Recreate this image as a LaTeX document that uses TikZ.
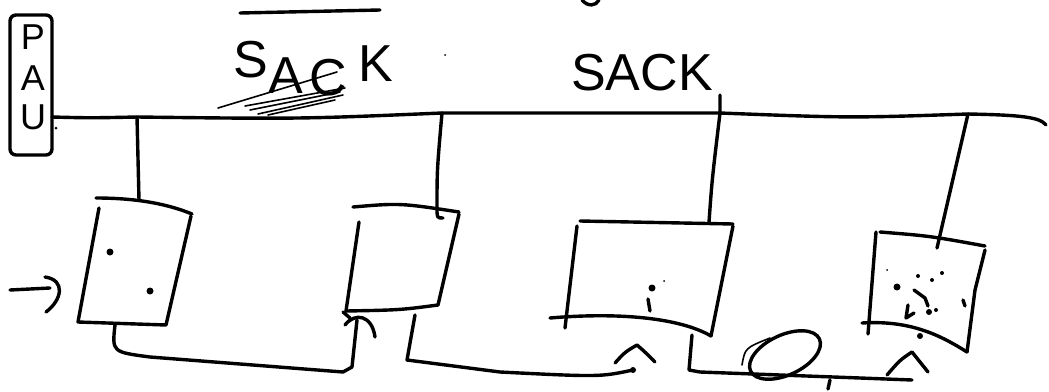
\documentclass[tikz,border=0pt]{standalone}
\usepackage{fontspec}
\setmainfont{Liberation Sans}
\begin{document}
\begin{tikzpicture}[x=1pt,y=-1pt,
  sk/.style={line width=3.4pt, line cap=round, line join=round},
  thinsk/.style={line width=1.6pt, line cap=round},
  blob/.style={fill=black, circle, inner sep=0pt, minimum size=#1},
  blob/.default=6pt,
  lab/.style={font=\fontsize{52}{52}\selectfont, inner sep=0pt},
  paulet/.style={font=\fontsize{36}{36}\selectfont, inner sep=0pt}]
\useasboundingbox (0,0) rectangle (1049,391);

% PAU unit
\node[sk, draw, rounded corners=6pt, minimum width=42pt, minimum height=140pt, inner sep=0pt] (pau) at (31,85) {};
\node[paulet] (pP) at (33,37) {P};
\node[paulet] (pA) at (33,78) {A};
\node[paulet] (pU) at (33,117) {U};

% bus coordinates
\coordinate (bus0) at (52,117);
\coordinate (tap1) at (137,117);
\coordinate (tap2) at (442,113);
\coordinate (tap3) at (720,113);
\coordinate (tap4) at (968,114);
\coordinate (busend) at (1046,125);
\draw[sk] (bus0) .. controls (90,118) .. (tap1) .. controls (300,119) .. (tap2) -- (tap3) .. controls (850,118) .. (tap4) .. controls (1020,115) and (1040,117) .. (busend);

% top line and fragment
\coordinate (tl0) at (240,13);
\coordinate (tl1) at (380,10);
\draw[sk] (tl0) -- (tl1);
\draw[sk] (582,0) .. controls (588,7) and (596,6) .. (599,0);

% first SACK
\node[lab] (s1) at (251,60) {S};
\node[lab] (a1) at (286,76) {A};
\node[lab] (c1) at (328,78) {C};
\node[lab] (k1) at (376,64) {K};
\draw[thinsk] (218,108) -- (337,72);
\draw[thinsk] (245,106) -- (345,88);
\draw[thinsk] (258,114) -- (343,95);
\draw[thinsk] (268,115) -- (335,100);
\draw[thinsk] (250,110) -- (340,92);

% second SACK
\node[lab] (sack2) at (642,73) {SACK};

% boxes
\coordinate (b1top) at (139,200);
\coordinate (b1bot) at (115,325);
\draw[sk] (96,198) .. controls (140,198) and (170,205) .. (192,214);
\draw[sk] (99,208) -- (78,322) -- (166,325) -- (191,216);
\node[blob=7pt] (d1) at (110,252) {};
\node[blob=7pt] (d2) at (150,291) {};

\coordinate (b2hook) at (443,218);
\coordinate (b2bl) at (357,320);
\coordinate (b2bot) at (415,315);
\draw[sk] (353,207) .. controls (400,203) .. (459,212);
\draw[sk] (459,214) -- (438,305);
\draw[sk] (438,305) .. controls (400,310) .. (346,311);
\draw[sk] (359,222) -- (346,311);

\coordinate (b3top) at (709,222);
\coordinate (b3br) at (692,335);
\draw[sk] (580,221) -- (733,224);
\draw[sk] (733,226) -- (711,336);
\draw[sk] (550,318) .. controls (620,312) and (680,318) .. (711,336);
\draw[sk] (577,226) -- (565,328);
\node[blob=7pt] (d3) at (652,288) {};
\draw[sk] (648,299) -- (650,311);
\node[blob=2pt] (d4) at (664,281) {};

\coordinate (b4top) at (937,248);
\draw[sk] (880,232) .. controls (930,236) .. (985,246);
\draw[sk] (985,250) -- (975,290) -- (967,352);
\draw[sk] (862,323) .. controls (910,320) and (940,335) .. (967,352);
\draw[sk] (876,232) -- (868,334);
\node[blob=7pt] (e1) at (897,287) {};
\node[blob=4pt] (e2) at (918,276) {};
\node[blob=4pt] (e3) at (932,280) {};
\node[blob=4pt] (e4) at (942,273) {};
\draw[sk] (914,290) -- (925,298) -- (928,306);
\draw[sk] (908,305) -- (906,318) -- (914,313);
\node[blob=6pt] (e5) at (929,312) {};
\node[blob=4pt] (e6) at (936,310) {};
\draw[sk] (963,300) -- (965,306);
\node[blob=6pt] (e7) at (920,336) {};
\node[blob=2pt] (e8) at (887,270) {};

% drops from bus
\draw[sk] (tap1) -- (b1top);
\draw[sk] (tap2) .. controls (437,170) .. (437,208) .. controls (437,218) .. (b2hook);
\coordinate (k3) at (720,95);
\draw[sk] (k3) -- (tap3) .. controls (712,180) .. (b3top);
\draw[sk] (tap4) -- (b4top);

% lower connectors
\draw[sk] (b1bot) .. controls (112,352) .. (150,357) -- (343,372) -- (352,367) -- (b2bl);
\draw[sk] (345,325) .. controls (355,312) and (372,315) .. (375,337);
\draw[sk] (343,312) -- (350,318);
\coordinate (c2end) at (633,370);
\draw[sk] (b2bot) -- (407,360) -- (500,372) .. controls (600,377) .. (c2end);
\node[blob=6pt] (c2blob) at (c2end) {};
\draw[sk] (615,363) .. controls (625,352) .. (637,345) .. controls (645,352) .. (655,362);
\coordinate (c3end) at (912,380);
\draw[sk] (b3br) -- (689,370) -- (700,372) -- (860,378) -- (c3end);
\draw[sk, rotate around={25:(785,355)}] (785,355) ellipse [x radius=38, y radius=20];
\draw[thinsk] (742,365) .. controls (745,348) .. (770,338);
\draw[sk] (830,380) -- (828,389);
\draw[sk] (887,375) .. controls (900,360) .. (912,352) .. controls (920,362) .. (928,372);

% left input arrow
\coordinate (in0) at (10,290);
\coordinate (in1) at (50,288);
\draw[sk] (in0) -- (in1);
\draw[sk] (45,277) .. controls (66,280) and (62,300) .. (46,312);

% stray dots
\node[blob=3pt] (s1d) at (56,128) {};
\node[blob=2pt] (s2d) at (445,55) {};
\end{tikzpicture}
\end{document}
